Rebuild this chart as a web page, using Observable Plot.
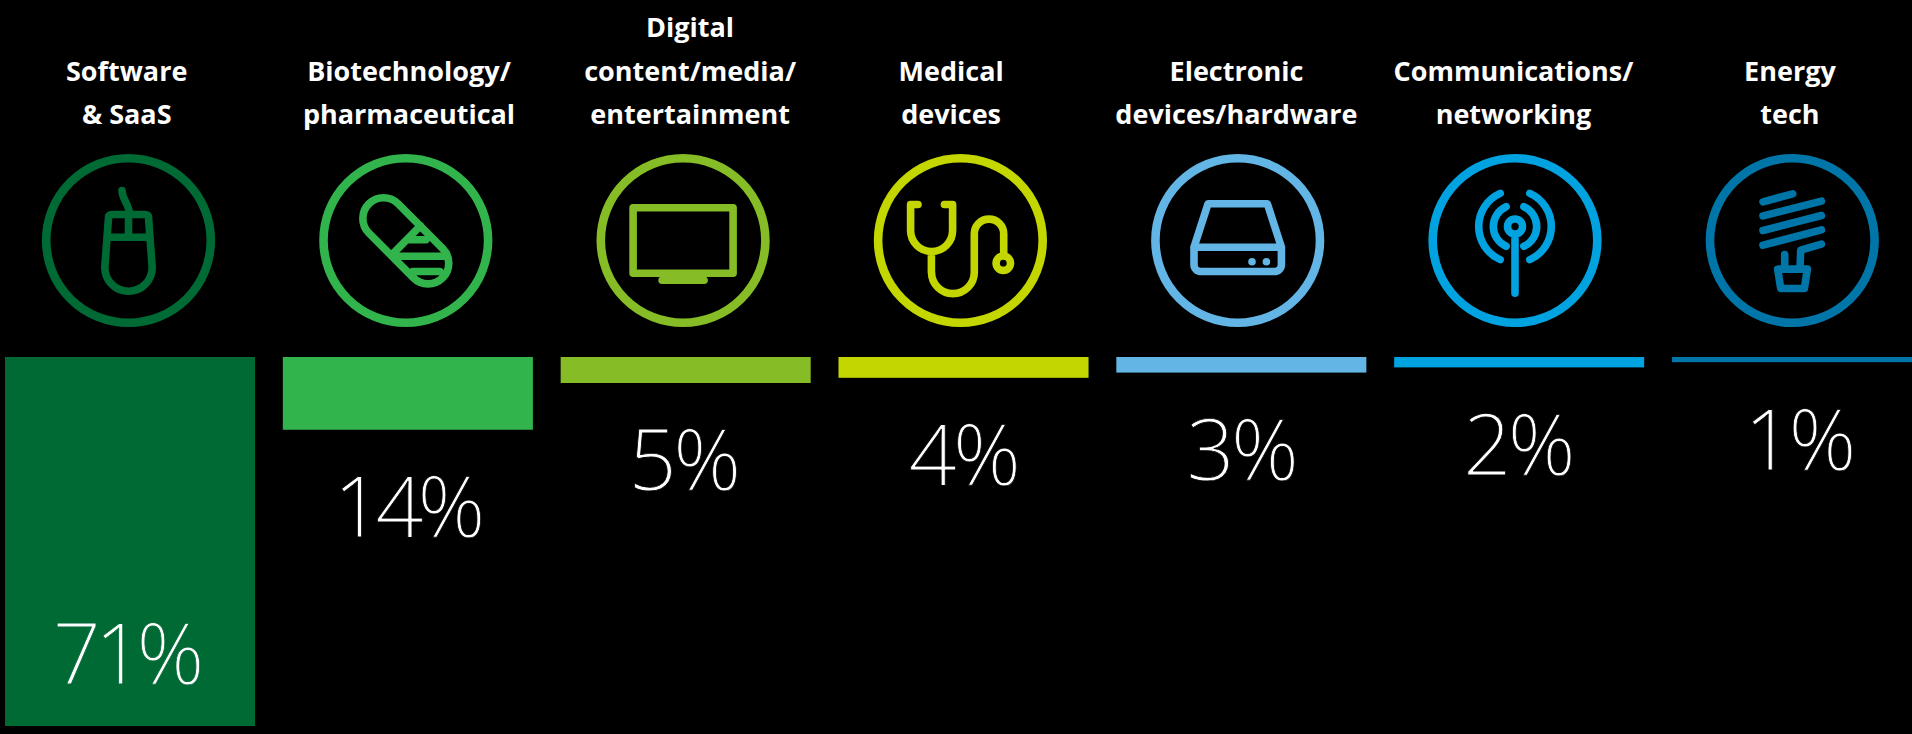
<!DOCTYPE html>
<html>
<head>
<meta charset="utf-8">
<script src="https://cdn.jsdelivr.net/npm/d3@7"></script>
<script src="https://cdn.jsdelivr.net/npm/@observablehq/plot@0.6"></script>
<style>
html,body{margin:0;padding:0;background:#000;width:1912px;height:734px;overflow:hidden}
svg{display:block}
#chart{position:relative;width:1912px;height:734px;overflow:hidden}
.pct2 text{letter-spacing:-6px}
.pct1 text{letter-spacing:-3.5px}
</style>
</head>
<body>
<div id="chart"></div>
<script>
const categories = [
  "Software\n& SaaS",
  "Biotechnology/\npharmaceutical",
  "Digital\ncontent/media/\nentertainment",
  "Medical\ndevices",
  "Electronic\ndevices/hardware",
  "Communications/\nnetworking",
  "Energy\ntech"
];
const values = [71, 14, 5, 4, 3, 2, 1];
const colors = ["#006A35", "#32B44C", "#86BC25", "#C4D600", "#62B5E5", "#00A3E0", "#0076A8"];

const rows = categories.map((category, i) => ({category, value: values[i]}));

// Icon glyphs, drawn as custom Plot dot symbols around the centre of each ring.
const segs = (c, pts) => { c.moveTo(pts[0][0], pts[0][1]); for (const p of pts.slice(1)) c.lineTo(p[0], p[1]); };
const arcFrom = (c, x, y, r, a0, a1) => { c.moveTo(x + r * Math.cos(a0), y + r * Math.sin(a0)); c.arc(x, y, r, a0, a1); };
const PI = Math.PI;

const mouse = {draw(c) {
  c.moveTo(-20, -23); c.quadraticCurveTo(-20, -26, -16, -26); c.lineTo(16, -26); c.quadraticCurveTo(20, -26, 20, -23);
  c.lineTo(23.7, 27); c.arc(0, 27, 23.7, 0, PI); c.closePath();
  segs(c, [[-21.5, -3.3], [21.5, -3.3]]);
  segs(c, [[0, -26], [0, -3.3]]);
  c.moveTo(1, -26); c.bezierCurveTo(1, -36, -6, -40, -6.5, -50);
}};
const pill = {draw(c) {
  const a = PI / 4, R = 20.7;
  c.arc(-22.2, -22, R, a + PI / 2, a + 3 * PI / 2);
  c.arc(22.2, 22.6, R, a - PI / 2, a + PI / 2);
  c.closePath();
  segs(c, [[14.6, -14.7], [-14.6, 15]]);
  segs(c, [[2.8, -0.7], [20, -0.7]]);
  segs(c, [[-7.2, 15.7], [39, 15.7]]);
  segs(c, [[7, 31], [34, 31]]);
}};
const tv = {draw(c) {
  c.moveTo(-50, -32.7); c.lineTo(50, -32.7); c.lineTo(50, 32.7); c.lineTo(-50, 32.7); c.closePath();
  segs(c, [[-21, 39.7], [21, 39.7]]);
  segs(c, [[-14, 36], [14, 36]]);
}};
const stethoscope = {draw(c) {
  c.moveTo(-42.4, -36); c.lineTo(-49.8, -36); c.lineTo(-49.8, -10);
  c.arc(-28.8, -10, 21, PI, 0, true);
  c.lineTo(-7.8, -36); c.lineTo(-16, -36);
  c.moveTo(-29, 11); c.lineTo(-29, 31.7);
  c.arc(-7.5, 31.7, 21.4, PI, 0, true);
  c.lineTo(13.9, -6.7);
  c.arc(28.6, -6.7, 14.7, PI, 0);
  c.lineTo(43.3, 15);
  arcFrom(c, 42.9, 22.7, 7.2, 0, 2 * PI);
}};
const drive = {draw(c) {
  c.moveTo(-43.7, 6.7); c.lineTo(-29.7, -36.7); c.lineTo(29.7, -36.7); c.lineTo(43.7, 6.7);
  c.moveTo(-43.7, 6.7); c.lineTo(43.7, 6.7); c.lineTo(43.7, 24);
  c.arcTo(43.7, 31, 36.7, 31, 7); c.lineTo(-36.7, 31);
  c.arcTo(-43.7, 31, -43.7, 24, 7); c.closePath();
  segs(c, [[14.3, 21.3], [14.31, 21.3]]);
  segs(c, [[28.7, 21.3], [28.71, 21.3]]);
}};
const antenna = {draw(c) {
  arcFrom(c, 0, -14, 7.5, 0, 2 * PI);
  segs(c, [[0, -6], [0, 52.7]]);
  const t = 1.15;
  for (const r of [21.7, 36.3]) {
    arcFrom(c, 0, -14, r, -t, t);
    arcFrom(c, 0, -14, r, PI - t, PI + t);
  }
}};
const bulb = {draw(c) {
  const p = (x, y) => [x / 3 - 61.6, y / 3 - 60];
  segs(c, [p(97, 64), p(186, 40)]);
  segs(c, [p(97, 106), p(272, 62)]);
  segs(c, [p(97, 150), p(272, 105)]);
  segs(c, [p(97, 194), p(272, 148)]);
  segs(c, [p(272, 191), p(210, 209), p(208, 262)]);
  segs(c, [p(162, 222), p(162, 262)]);
  const q = [p(141, 266), p(230, 266), p(221, 324), p(150, 324)];
  segs(c, q); c.closePath();
}};
const icons = [mouse, pill, tv, stethoscope, drive, antenna, bulb];

const colorScale = {domain: categories, range: colors};
const topPitch = 277.3;
const barPitch = 277.83;
// The source's text is not quite centred over its ring or bar.
const labelNudge = [-1.8, 3.2, 7, -9.3, -1.3, -1.6, -2.4];
const valueNudge = [-5, -2, -3, -1, -1, -2, 1];

const upper = Plot.plot({
  width: 1912, height: 357,
  margin: 0,
  style: {background: "#000", color: "#fff"},
  x: {type: "band", domain: categories, axis: null, padding: 0, round: false,
      range: [128 - topPitch / 2, 128 - topPitch / 2 + 7 * topPitch]},
  color: colorScale,
  marks: [
    ...rows.map((row, i) => Plot.text([row], {
      x: "category", text: "category", frameAnchor: "top", dy: 123.5, dx: labelNudge[i],
      lineAnchor: "bottom", lineHeight: 43.3 / 27,
      fontFamily: "Open Sans", fontWeight: 700, fontSize: 27, fill: "#fff"
    })),
    Plot.dot(rows, {
      x: "category", frameAnchor: "top", dy: 240, r: 82.3,
      fill: "none", stroke: "category", strokeWidth: 8.6
    }),
    ...rows.map((row, i) => Plot.dot([row], {
      x: "category", frameAnchor: "top", dy: 240, r: 1, symbol: icons[i],
      fill: "none", stroke: colors[i], strokeWidth: 7.6,
      strokeLinecap: "round", strokeLinejoin: "round"
    }))
  ]
});

const lower = Plot.plot({
  width: 1912, height: 377,
  margin: 0,
  style: {background: "#000", color: "#fff"},
  x: {type: "band", domain: categories, axis: null, padding: 0.1, round: false,
      range: [5 - 0.1 * barPitch, 5 - 0.1 * barPitch + 7.1 * barPitch]},
  y: {domain: [0, 71], range: [0, 369], axis: null},
  color: colorScale,
  marks: [
    Plot.barY(rows, {x: "category", y: "value", fill: "category", clip: true}),
    ...rows.map((row, i) => Plot.text([row], {
      x: "category", y: "value", text: d => `${d.value}%`,
      dy: row.value > 50 ? -43 : 107, dx: valueNudge[i],
      className: row.value >= 10 ? "pct2" : "pct1",
      lineAnchor: "bottom", fontFamily: "Open Sans", fontWeight: 300, fontSize: 84,
      fill: "#fff", stroke: row.value > 50 ? colors[i] : "#000", strokeWidth: 0.8, paintOrder: "normal"
    }))
  ]
});

document.getElementById("chart").append(upper, lower);
</script>
</body>
</html>
